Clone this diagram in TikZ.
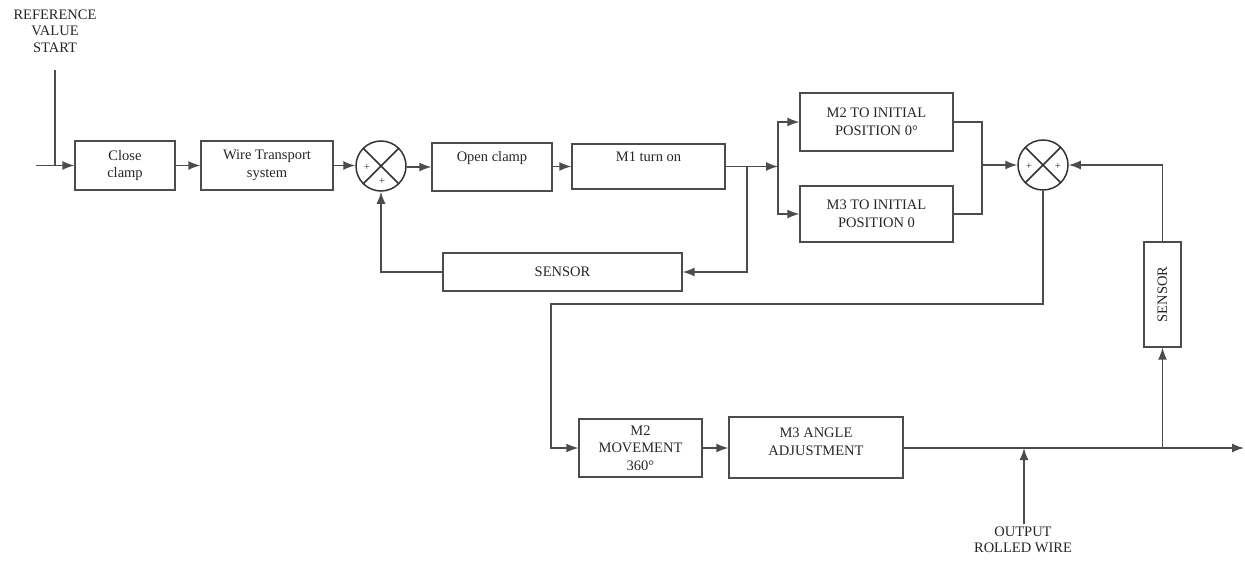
\documentclass[tikz,border=0pt]{standalone}
\usepackage{fontspec}
\setmainfont{Liberation Serif}
\usetikzlibrary{arrows.meta,calc}
\begin{document}
\begin{tikzpicture}[x=1pt,y=-1pt,
  line/.style={draw=black!70,line width=1.4pt},
  arr/.style={line,-{Latex[length=12pt,width=9pt]}},
  blk/.style={draw=black!70,line width=1.3pt,align=center,inner sep=0pt,font=\fontsize{14.5}{17.5}\selectfont,text=black!85},
  sumj/.style={circle,draw=black!80,line width=1.5pt,minimum size=50pt,inner sep=0pt,
    path picture={\draw[black!80,line width=1.5pt]
      (path picture bounding box.north west)--(path picture bounding box.south east)
      (path picture bounding box.north east)--(path picture bounding box.south west);}},
  plus/.style={font=\fontsize{11}{11}\selectfont,text=black!80,inner sep=0pt},
  lbl/.style={align=center,inner sep=0pt,font=\fontsize{14.5}{16.5}\selectfont,text=black!85}]
\useasboundingbox (0,0) rectangle (1245,568);
% nodes
\node[lbl] (ref) at (55,31) {REFERENCE\\VALUE\\START};
\node[blk,minimum width=100pt,minimum height=49pt] (cc) at (125,165.5) {Close\\clamp};
\node[blk,minimum width=132pt,minimum height=49pt] (wt) at (267,165.5) {Wire Transport\\system};
\node[sumj] (s1) at (381,166) {};
\node[plus] at (367,167) {+};
\node[plus] at (382,181) {+};
\node[blk,minimum width=120pt,minimum height=48pt,text depth=21pt] (oc) at (492,167) {Open clamp};
\node[blk,minimum width=153pt,minimum height=45pt,text depth=19pt] (m1) at (648.5,166.5) {M1 turn on};
\node[blk,minimum width=239pt,minimum height=38pt] (sen1) at (562.5,272) {SENSOR};
\node[blk,minimum width=153pt,minimum height=58pt] (m2i) at (876.5,122) {M2 TO INITIAL\\POSITION 0\textdegree};
\node[blk,minimum width=153pt,minimum height=56pt] (m3i) at (876.5,214) {M3 TO INITIAL\\POSITION 0};
\node[sumj] (s2) at (1043,165) {};
\node[plus] at (1029,166) {+};
\node[plus] at (1058,166) {+};
\node[blk,minimum width=105pt,minimum height=37pt,rotate=90] (sen2) at (1162.5,294.5) {SENSOR};
\node[blk,minimum width=123pt,minimum height=58pt] (m2m) at (640.5,448) {M2\\MOVEMENT\\360\textdegree};
\node[blk,minimum width=174pt,minimum height=61pt,text depth=12pt] (m3a) at (816,447.5) {M3 ANGLE\\ADJUSTMENT};
\node[lbl] (outl) at (1023,540) {OUTPUT\\ROLLED WIRE};
% coordinates
\coordinate (in) at (36,165.5);
\coordinate (reftop) at (55,70);
\coordinate (sp1) at (747,166.5);
\coordinate (sp2) at (778,166.5);
\coordinate (jn) at (982,165);
\coordinate (turn) at (551,304);
\coordinate (tap) at (1162.5,448);
\coordinate (outend) at (1244,448);
\coordinate (outtap) at (1024,448);
\coordinate (outbot) at (1024,524);
% connectors
\draw[arr] (in) -- (cc.west);
\draw[line] (reftop) -- (reftop |- cc.west);
\draw[arr] (cc.east) -- (wt.west);
\draw[arr] (wt.east) -- (wt.east -| s1.west);
\draw[arr] (s1.east |- oc.west) -- (oc.west);
\draw[arr] (oc.east |- m1.west) -- (m1.west);
\draw[arr] (m1.east) -- (sp2);
\draw[arr] (sp2) |- (m2i.west);
\draw[arr] (sp2) |- (m3i.west);
\draw[arr] (sp1) |- (sen1.east);
\draw[arr] (sen1.west) -| (s1.south);
\draw[line] (m2i.east) -| (jn) |- (m3i.east);
\draw[arr] (jn) -- (s2.west);
\draw[arr] (s2.south) |- (turn) |- (m2m.west);
\draw[arr] (m2m.east) -- (m2m.east -| m3a.west);
\draw[arr] (m2m.east -| m3a.east) -- (outend);
\draw[arr] (tap) -- (sen2.west);
\draw[arr] (sen2.east) |- (s2.east);
\draw[arr] (outbot) -- (outtap);
\end{tikzpicture}
\end{document}
